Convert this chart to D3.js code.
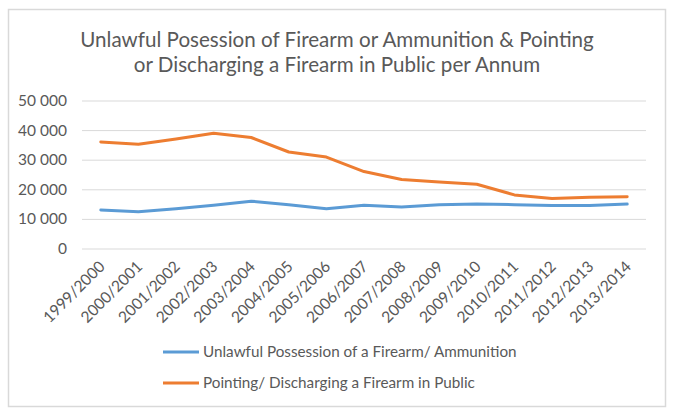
<!DOCTYPE html>
<html><head><meta charset="utf-8">
<script src="https://cdn.jsdelivr.net/npm/d3@7"></script>
<style>body{margin:0;background:#fff}svg{display:block}text{font-family:Lato,"Open Sans",sans-serif}</style>
</head><body><svg id="c" width="674" height="408"></svg>
<script>
const categories = ["1999/2000","2000/2001","2001/2002","2002/2003","2003/2004","2004/2005","2005/2006","2006/2007","2007/2008","2008/2009","2009/2010","2010/2011","2011/2012","2012/2013","2013/2014"];
const possession = [13000,12400,13400,14600,16000,14800,13400,14600,14000,14800,15000,14800,14500,14500,15000];
const pointing = [36000,35200,37000,38900,37500,32600,30900,26000,23300,22500,21700,18100,16900,17300,17500];
const yTicks = [0,10000,20000,30000,40000,50000];
const seriesNames = ["Unlawful Possession of a Firearm/ Ammunition","Pointing/ Discharging a Firearm in Public"];
const colors = ["#5b9bd5","#ed7d31"];
const titleLines = ["Unlawful Posession of Firearm or Ammunition & Pointing","or Discharging a Firearm in Public per Annum"];

const svg = d3.select("#c");
svg.append("rect").attr("x",8.5).attr("y",9.5).attr("width",657).attr("height",397)
  .attr("fill","#fff").attr("stroke","#d9d9d9").attr("stroke-width",1.5);

const x = d3.scaleBand().domain(categories).range([82,646]);
const y = d3.scaleLinear().domain([0,50000]).range([248.5,100.5]);

const fmt = v => d3.format(",")(v).replace(/,/g," ");

// grid
const gAxis = svg.append("g").attr("transform","translate(82,0)")
  .call(d3.axisLeft(y).tickValues(yTicks).tickSize(-564).tickFormat(fmt));
gAxis.select(".domain").remove();
gAxis.selectAll("line").attr("stroke","#d9d9d9").attr("stroke-width",1);
gAxis.selectAll("text").attr("x",-15).attr("fill","#595959").style("font-size","15.5px").style("font-family","Lato, sans-serif");

// x labels
const gx = svg.append("g").attr("transform","translate(0,248.5)")
  .call(d3.axisBottom(x).tickSize(0).tickFormat(d=>d));
gx.select(".domain").remove();
gx.selectAll("text").attr("text-anchor","end").attr("fill","#595959")
  .style("font-size","15.6px").style("font-family","Lato, sans-serif")
  .attr("dy",null).attr("y",0)
  .attr("transform","translate(5,19) rotate(-45)");

const line = d3.line().x((d,i)=>x(categories[i])+x.bandwidth()/2).y(d=>y(d));
[possession,pointing].forEach((s,k)=>{
  svg.append("path").datum(s).attr("d",line).attr("fill","none")
    .attr("stroke",colors[k]).attr("stroke-width",3).attr("stroke-linejoin","round").attr("stroke-linecap","round");
});

// title
svg.append("g").selectAll("text").data(titleLines).join("text")
  .attr("x",337).attr("y",(d,i)=>47+i*25).attr("text-anchor","middle")
  .attr("fill","#595959").style("font-size","20.6px").text(d=>d);

// legend
const lg = svg.append("g");
seriesNames.forEach((n,i)=>{
  const yy = 352 + i*31;
  lg.append("line").attr("x1",163).attr("x2",199).attr("y1",yy).attr("y2",yy)
    .attr("stroke",colors[i]).attr("stroke-width",3);
  lg.append("text").attr("x",203).attr("y",yy+5).attr("fill","#595959")
    .style("font-size","15.25px").text(n);
});
</script></body></html>
